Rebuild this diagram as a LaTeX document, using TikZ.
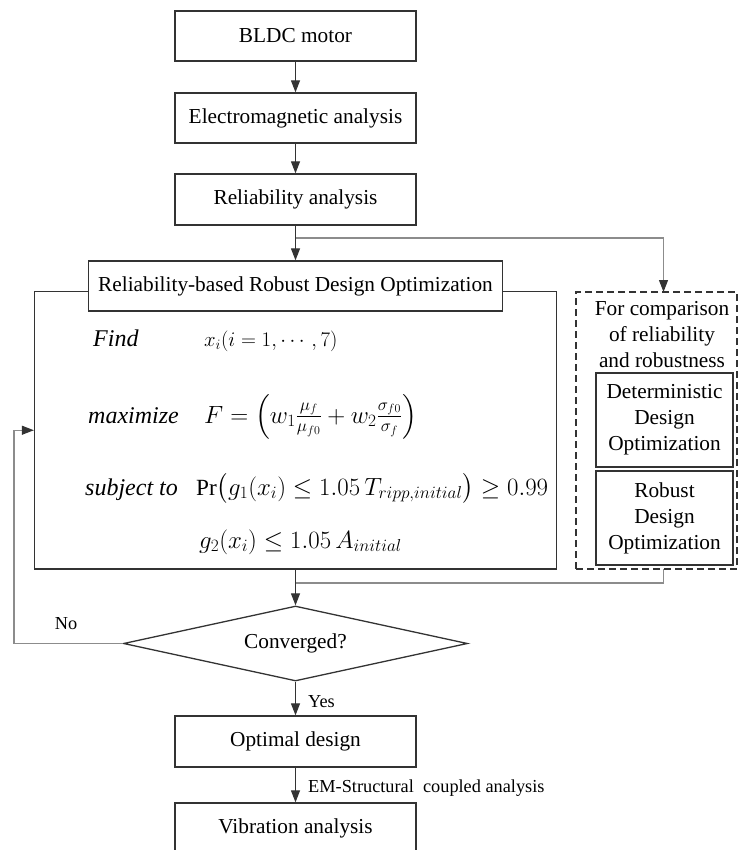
\documentclass[tikz,border=0pt]{standalone}
\usepackage{amsmath}
\usepackage{fontspec}
\setmainfont{Liberation Serif}
\usetikzlibrary{arrows.meta,shapes.geometric}
\definecolor{boxc}{HTML}{333333}
\definecolor{sidec}{HTML}{8C8C8C}
\begin{document}
\begin{tikzpicture}[x=1pt,y=-1pt,
  txt/.style={font=\fontsize{21.3}{26}\selectfont},
  box/.style={txt, draw=boxc, line width=1.3pt, rectangle, inner sep=0pt, align=center},
  tip/.style={-{Triangle[length=12pt,width=9pt,color=boxc]}},
  flow/.style={draw=boxc, line width=1.1pt, tip},
  side/.style={draw=sidec, line width=1.1pt},
  lab/.style={font=\fontsize{18.3}{21}\selectfont, inner sep=0pt},
  eq/.style={font=\fontsize{23.2}{28}\selectfont, anchor=base west, inner sep=0pt},
  kw/.style={font=\fontsize{24}{28}\selectfont\itshape, anchor=base west, inner sep=0pt}]
\clip (0,0) rectangle (739,850);
\path[use as bounding box] (0,0) rectangle (739,850);

% main flow boxes
\node[box, minimum width=241pt, minimum height=50pt] (bldc) at (295.5,36) {BLDC motor};
\node[box, minimum width=241pt, minimum height=50pt] (em) at (295.5,118) {Electromagnetic analysis};
\node[box, minimum width=241pt, minimum height=51pt] (rel) at (295.5,199.5) {Reliability analysis};

% RBDO block
\node[draw=boxc, line width=1.3pt, minimum width=522pt, minimum height=277.5pt, inner sep=0pt] (mainbox) at (295.5,430.25) {};
\node[box, fill=white, minimum width=414pt, minimum height=50pt] (title) at (295.5,286) {Reliability-based Robust Design Optimization};

\node[kw] (find) at (93,346) {Find};
\node[eq, font=\fontsize{20.5}{25}\selectfont] (findx) at (204,346) {$x_i(i=1,\cdots,7)$};
\node[kw] (maxi) at (88,423) {maximize};
\node[eq] (maxf) at (204,423) {$F=\left(w_1\frac{\mu_f}{\mu_{f0}}+w_2\frac{\sigma_{f0}}{\sigma_f}\right)$};
\node[kw] (subj) at (85,495) {subject to};
\node[eq] (con1) at (196,495) {$\Pr\!\big(g_1(x_i)\leq 1.05\,T_{ripp,initial}\big)\geq 0.99$};
\node[eq] (con2) at (199,548) {$g_2(x_i)\leq 1.05\,A_{initial}$};

% comparison block
\node[draw=boxc, line width=1.3pt, dash pattern=on 7pt off 4pt, minimum width=161pt, minimum height=277pt, inner sep=0pt] (cmp) at (656.5,430.5) {};
\node[txt, align=center, inner sep=0pt] (cmptxt) at (662,335) {For comparison\\of reliability\\and robustness};
\node[box, minimum width=137pt, minimum height=94pt] (det) at (664.5,420) {Deterministic\\Design\\Optimization};
\node[box, minimum width=137pt, minimum height=94pt] (rob) at (664.5,518) {Robust\\Design\\Optimization};

% decision and end
\node[diamond, draw=boxc, line width=1.3pt, aspect=4.6, minimum width=344pt, minimum height=75pt, inner sep=0pt, txt] (conv) at (295.5,643.5) {Converged?};
\node[box, minimum width=241pt, minimum height=51pt] (opt) at (295.5,741.5) {Optimal design};
\node[box, minimum width=241pt, minimum height=50pt] (vib) at (295.5,828) {Vibration analysis};

% helper coordinates
\coordinate (b1) at (295.5,238);
\coordinate (cmptop) at (663.5,292);
\coordinate (cmpbot) at (663.5,569);
\coordinate (m1) at (295.5,583);
\coordinate (nl) at (14,430.25);

% side connectors
\draw[side, tip] (b1) -| (cmptop);
\draw[side] (cmpbot) |- (m1);
\draw[side, tip] (conv.west) -| (nl) -- (mainbox.west);

% main connectors
\draw[flow] (bldc) -- (em);
\draw[flow] (em) -- (rel);
\draw[flow] (rel) -- (title);
\draw[flow] (mainbox.south) -- (conv.north);
\draw[flow] (conv.south) -- (opt.north);
\draw[flow] (opt) -- (vib);

% labels
\node[lab] (no) at (66,624) {No};
\node[lab, anchor=west] (yes) at (308,702) {Yes};
\node[lab, anchor=west] (emlab) at (308,788) {EM-Structural\ \ coupled analysis};
\end{tikzpicture}
\end{document}
